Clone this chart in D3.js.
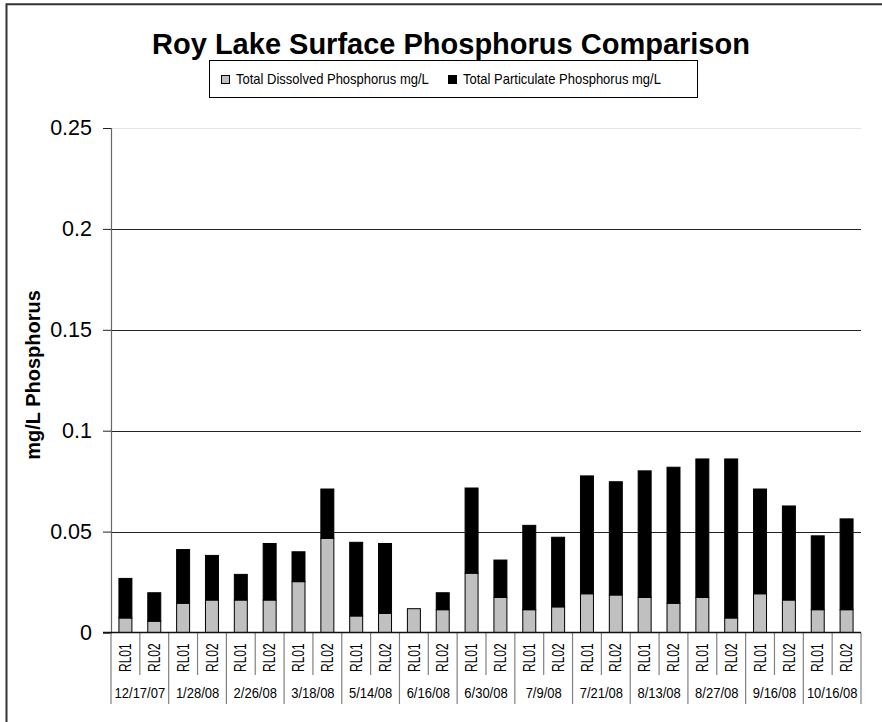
<!DOCTYPE html>
<html>
<head>
<meta charset="utf-8">
<script src="https://cdn.jsdelivr.net/npm/d3@7"></script>
<style>
  html, body { margin: 0; padding: 0; background: #fff; }
  svg { display: block; font-family: Arial, "Liberation Sans", sans-serif; }
</style>
</head>
<body>
<svg id="chart" width="882" height="722"></svg>
<script>
const title = "Roy Lake Surface Phosphorus Comparison";
const yLabel = "mg/L Phosphorus";
const seriesNames = ["Total Dissolved Phosphorus mg/L", "Total Particulate Phosphorus mg/L"];
const dates = ["12/17/07","1/28/08","2/26/08","3/18/08","5/14/08","6/16/08","6/30/08","7/9/08","7/21/08","8/13/08","8/27/08","9/16/08","10/16/08"];
const sites = ["RL01","RL02"];
const dissolved = [0.0072,0.0056,0.0145,0.0161,0.0161,0.0161,0.0252,0.0467,0.0082,0.0095,0.0118,0.0113,0.0294,0.0174,0.0113,0.0127,0.0192,0.0186,0.0174,0.0145,0.0174,0.0072,0.0192,0.0161,0.0113,0.0113];
const particulate = [0.0196,0.0141,0.0266,0.0221,0.0127,0.0280,0.0148,0.0244,0.0365,0.0346,0.0000,0.0084,0.0422,0.0185,0.0418,0.0345,0.0584,0.0561,0.0627,0.0674,0.0686,0.0788,0.0519,0.0466,0.0366,0.0450];
const yTicks = [0, 0.05, 0.1, 0.15, 0.2, 0.25];

(function () {
const categories = [];
dates.forEach(d => sites.forEach(s => categories.push({date: d, site: s, key: d + "|" + s})));
const rows = categories.map((c, i) => ({key: c.key, date: c.date, site: c.site, dissolved: dissolved[i], particulate: particulate[i]}));

const svg = d3.select("#chart");
const W = 882, H = 722;
const pLeft = 111, pRight = 861, pTop = 128, pBottom = 632.5;

svg.append("rect").attr("width", W).attr("height", H).attr("fill", "#fff");
// outer frame
svg.append("path").attr("d", `M6.5,${H} V4.2 H${W}`).attr("fill", "none").attr("stroke", "#333").attr("stroke-width", 2);

const x = d3.scaleBand().domain(rows.map(r => r.key)).range([pLeft, pRight]).paddingInner(0.55).paddingOuter(0.275);
const y = d3.scaleLinear().domain([0, 0.25]).range([pBottom, pTop]);

// gridlines
svg.append("g").selectAll("line").data(yTicks.filter(t => t > 0)).join("line")
  .attr("x1", pLeft).attr("x2", pRight)
  .attr("y1", d => Math.round(y(d)) + 0.5).attr("y2", d => Math.round(y(d)) + 0.5)
  .attr("stroke", d => d === 0.25 ? "#e4e4e4" : "#222").attr("stroke-width", 1);

// y axis
const yAxis = d3.axisLeft(y).tickValues(yTicks).tickSize(8).tickPadding(11).tickFormat(d => String(+d.toFixed(2)));
const gy = svg.append("g").attr("transform", `translate(${pLeft},0)`).call(yAxis);
gy.select(".domain").attr("stroke", "#666").attr("stroke-width", 1.2);
gy.selectAll(".tick line").attr("stroke", "#222");
gy.selectAll(".tick text").attr("font-size", 21.5).attr("fill", "#000").attr("font-family", "Arial, 'Liberation Sans', sans-serif");

// category separators
const step = x.step();
const bounds = d3.range(rows.length + 1);
svg.append("g").selectAll("line").data(bounds).join("line")
  .attr("x1", i => pLeft + i * step).attr("x2", i => pLeft + i * step)
  .attr("y1", pBottom).attr("y2", i => i % 2 === 0 ? 704 : 675)
  .attr("stroke", "#808080").attr("stroke-width", 1.2);

// bars
const stack = d3.stack().keys(["dissolved", "particulate"]);
const layers = stack(rows);
const colors = ["#C0C0C0", "#000000"];
svg.append("g").selectAll("g").data(layers).join("g")
  .attr("fill", (d, i) => colors[i])
  .selectAll("rect").data(d => d.filter(p => p[1] - p[0] > 0)).join("rect")
  .attr("x", d => x(d.data.key))
  .attr("width", x.bandwidth())
  .attr("y", d => y(d[1]))
  .attr("height", d => y(d[0]) - y(d[1]))
  .attr("stroke", "#000").attr("stroke-width", 1);

// baseline
svg.append("line").attr("x1", pLeft - 8).attr("x2", pRight).attr("y1", pBottom).attr("y2", pBottom)
  .attr("stroke", "#111").attr("stroke-width", 1.3);

// site labels
svg.append("g").selectAll("text").data(rows).join("text")
  .attr("transform", d => `translate(${x(d.key) + x.bandwidth() / 2},672) rotate(-90) scale(1,1.35)`)
  .attr("dy", "0.35em").attr("text-anchor", "start")
  .attr("font-size", 12).attr("fill", "#000")
  .text(d => d.site);

// date labels
svg.append("g").selectAll("text").data(dates).join("text")
  .attr("transform", (d, i) => `translate(${pLeft + (2 * i + 1) * step},698) scale(1,1.18)`)
  .attr("text-anchor", "middle")
  .attr("font-size", 13).attr("fill", "#000")
  .text(d => d);

// y label
svg.append("text").attr("transform", "translate(33,375) rotate(-90)")
  .attr("text-anchor", "middle").attr("dy", "0.35em")
  .attr("font-size", 20).attr("font-weight", "bold").text(yLabel);

// title
svg.append("text").attr("x", 451).attr("y", 54).attr("text-anchor", "middle")
  .attr("font-size", 29).attr("font-weight", "bold").text(title);

// legend
const lg = svg.append("g");
lg.append("rect").attr("x", 209.5).attr("y", 60.5).attr("width", 488).attr("height", 37)
  .attr("fill", "#fff").attr("stroke", "#000").attr("stroke-width", 1);
const legendX = [221, 448];
seriesNames.forEach((name, i) => {
  lg.append("rect").attr("x", legendX[i] + 0.5).attr("y", 75.5).attr("width", 8).attr("height", 8)
    .attr("fill", colors[i]).attr("stroke", "#000").attr("stroke-width", 1);
  lg.append("text").attr("transform", `translate(${legendX[i] + 15},84) scale(1,1.15)`)
    .attr("font-size", 13).text(name);
});
})();
</script>
</body>
</html>
